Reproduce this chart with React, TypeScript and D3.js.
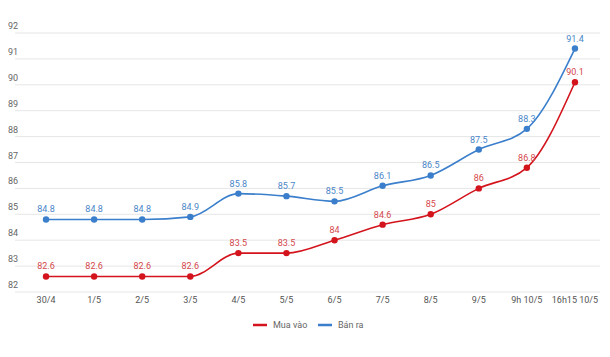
import React from "react";
import * as d3 from "d3";

const categories = ["30/4", "1/5", "2/5", "3/5", "4/5", "5/5", "6/5", "7/5", "8/5", "9/5", "9h 10/5", "16h15 10/5"];
const muaVao = [82.6, 82.6, 82.6, 82.6, 83.5, 83.5, 84, 84.6, 85, 86, 86.8, 90.1];
const banRa = [84.8, 84.8, 84.8, 84.9, 85.8, 85.7, 85.5, 86.1, 86.5, 87.5, 88.3, 91.4];
const yTicks = [82, 83, 84, 85, 86, 87, 88, 89, 90, 91, 92];

const W = 610;
const H = 357;
const RED = "#d4141c";
const BLUE = "#3b7fcc";
const RED_T = "#d4484c";
const BLUE_T = "#4a86c8";

export default function App() {
  const x = d3.scaleBand<string>().domain(categories).range([22, 599]);
  const y = d3.scaleLinear().domain([82, 92]).range([292, 33]);
  const cx = (i: number) => (x(categories[i]) as number) + x.bandwidth() / 2;
  const line = d3
    .line<number>()
    .x((_, i) => cx(i))
    .y((d) => y(d))
    .curve(d3.curveMonotoneX);
  const series = [
    { name: "Mua vào", data: muaVao, color: RED, tcolor: RED_T },
    { name: "Bán ra", data: banRa, color: BLUE, tcolor: BLUE_T },
  ];
  const font = "Roboto, sans-serif";
  return (
    <svg width={W} height={H} style={{ position: "absolute", left: 0, top: 0, background: "#fff" }}>
      {yTicks.map((t) => (
        <g key={t}>
          <line x1={15} x2={600} y1={y(t)} y2={y(t)} stroke="#e6e6e6" strokeWidth={1} />
          <text x={8} y={y(t) - 4} fontSize={9} fill="#666" fontFamily={font}>
            {t}
          </text>
        </g>
      ))}
      {categories.map((c, i) => (
        <text key={c} x={cx(i)} y={303} fontSize={9} fill="#555" textAnchor="middle" fontFamily={font}>
          {c}
        </text>
      ))}
      {series.map((s) => (
        <g key={s.name}>
          <path d={line(s.data) || ""} fill="none" stroke={s.color} strokeWidth={1.6} />
          {s.data.map((v, i) => (
            <g key={i}>
              <circle cx={cx(i)} cy={y(v)} r={3.2} fill={s.color} />
              <text x={cx(i)} y={y(v) - 7} fontSize={9} fill={s.tcolor} textAnchor="middle" fontFamily={font}>
                {v}
              </text>
            </g>
          ))}
        </g>
      ))}
      <g fontFamily={font} fontSize={9} fill="#666">
        <line x1={253} x2={267} y1={325} y2={325} stroke={RED} strokeWidth={2.5} />
        <text x={273} y={328}>Mua vào</text>
        <line x1={318} x2={332} y1={325} y2={325} stroke={BLUE} strokeWidth={2.5} />
        <text x={338} y={328}>Bán ra</text>
      </g>
    </svg>
  );
}
